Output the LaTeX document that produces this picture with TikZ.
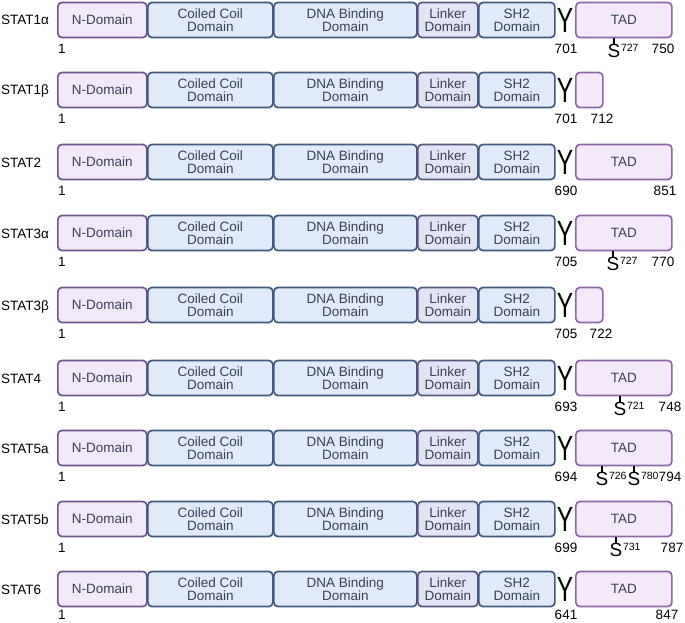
\documentclass[tikz,border=0pt]{standalone}
\usepackage{graphicx}
\usepackage{fontspec}
\setmainfont{Liberation Sans}
\definecolor{nfill}{HTML}{F1E8F8}
\definecolor{nline}{HTML}{6F558F}
\definecolor{bfill}{HTML}{E0EAF8}
\definecolor{bline}{HTML}{3F5A7E}
\definecolor{lfill}{HTML}{E3E4F5}
\definecolor{lline}{HTML}{55587F}
\definecolor{tfill}{HTML}{F3E9F9}
\definecolor{tline}{HTML}{8D67A8}
\definecolor{txt}{HTML}{3A3F55}
\tikzset{
  dom/.style={draw, rounded corners=4pt, line width=1.7pt, minimum height=35pt,
    anchor=west, inner sep=0pt, align=center,
    font=\fontsize{13.5}{13}\selectfont, text=txt},
  ndom/.style={dom, fill=nfill, draw=nline},
  bdom/.style={dom, fill=bfill, draw=bline},
  ldom/.style={dom, fill=lfill, draw=lline},
  tdom/.style={dom, fill=tfill, draw=tline},
  num/.style={font=\fontsize{13.5}{14}\selectfont, inner sep=0pt},
  lab/.style={font=\fontsize{13.5}{14}\selectfont, anchor=base west, inner sep=0pt},
  ybig/.style={font=\fontsize{35}{35}\selectfont, inner sep=0pt},
  sbig/.style={font=\fontsize{19}{19}\selectfont, inner sep=0pt, anchor=north},
  ssup/.style={font=\fontsize{10.5}{11}\selectfont, inner sep=0pt, anchor=north west},
  tick/.style={line width=1.1pt, draw=black},
}
% #1 id, #2 label, #3 y centre, #4 Y number, #5 end number, #6 end x, #7 TAD width, #8 number y offset
\newcommand\statrow[8]{%
  \node[lab] (lab#1) at (1,#3+5) {#2};
  \node[ndom, minimum width=89pt] (n#1) at (57,#3) {N-Domain};
  \node[bdom, minimum width=125pt] (cc#1) at (147,#3) {Coiled Coil\\Domain};
  \node[bdom, minimum width=143pt] (dna#1) at (273,#3) {DNA Binding\\Domain};
  \node[ldom, minimum width=60pt] (lk#1) at (417,#3) {Linker\\Domain};
  \node[bdom, minimum width=76pt] (sh#1) at (478,#3) {SH2\\Domain};
  \node[ybig] (y#1) at (565,#3) {\scalebox{0.7}[1]{Y}};
  \node[tdom, minimum width=#7pt] (tad#1) at (575,#3) {\ifdim#7pt>50pt TAD\fi};
  \node[num] (one#1) at (62,#3+#8) {1};
  \node[num] (yn#1) at (566,#3+#8) {#4};
  \node[num] (end#1) at (#6,#3+#8) {#5};
}
% #1 id, #2 suffix, #3 x, #4 y centre, #5 superscript
\newcommand\smark[5]{%
  \node[sbig] (s#1#2) at (#3,#4+24) {S};
  \node[ssup] (sup#1#2) at ([xshift=0.3pt,yshift=0.5pt]s#1#2.north east) {#5};
  \draw[tick] (s#1#2.north) -- (s#1#2.north |- tad#1.south);
}
\begin{document}
\begin{tikzpicture}[x=1pt,y=-1pt]
  \useasboundingbox (0,0) rectangle (685,623);
  \statrow{a}{STAT1α}{20}{701}{750}{663}{96}{29}
  \statrow{b}{STAT1β}{90}{701}{712}{602}{27}{29}
  \statrow{c}{STAT2}{162}{690}{851}{665}{96}{29}
  \statrow{d}{STAT3α}{233}{705}{770}{663}{96}{29}
  \statrow{e}{STAT3β}{305}{705}{722}{601}{27}{29}
  \statrow{f}{STAT4}{378}{693}{748}{670}{96}{29}
  \statrow{g}{STAT5a}{448}{694}{794}{670}{96}{29}
  \statrow{h}{STAT5b}{519}{699}{787}{672}{96}{29}
  \statrow{i}{STAT6}{589}{641}{847}{667}{96}{26}
  \smark{a}{1}{614}{20}{727}
  \smark{d}{1}{613}{233}{727}
  \smark{f}{1}{620}{378}{721}
  \smark{g}{1}{602}{448}{726}
  \smark{g}{2}{634}{448}{780}
  \smark{h}{1}{616}{519}{731}
\end{tikzpicture}
\end{document}
